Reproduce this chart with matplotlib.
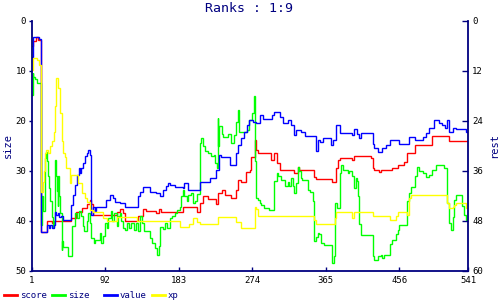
import matplotlib
matplotlib.use("Agg")
import matplotlib.pyplot as plt
from matplotlib.lines import Line2D

# ---------------- data (step change points: turn, value) ----------------
score_turns = [1, 3, 6, 9, 13, 20, 26, 28, 50, 56, 63, 69, 73, 75, 77, 106, 110, 114, 116, 133,
               139, 143, 155, 159, 161, 188, 205, 209, 213, 219, 229, 231, 236, 240, 248, 254,
               256, 260, 266, 271, 273, 277, 279, 281, 297, 301, 305, 308, 326, 330, 332, 351,
               353, 373, 378, 380, 382, 398, 400, 421, 423, 425, 431, 433, 447, 454, 462, 466,
               476, 497, 517]
score_vals = [5.0, 4.0, 3.3, 3.8, 42.2, 40.0, 40.4, 40.0, 39.5, 38.3, 37.4, 36.6, 35.9, 36.6,
              38.9, 38.3, 37.6, 38.5, 40.0, 39.1, 37.6, 38.1, 38.5, 37.6, 38.2, 37.3, 38.2, 36.4,
              35.1, 35.7, 36.6, 34.5, 33.9, 34.8, 35.5, 33.9, 31.9, 32.2, 30.2, 29.9, 27.2, 23.9,
              25.9, 26.5, 27.9, 26.5, 28.5, 29.9, 30.5, 29.2, 29.9, 31.2, 31.6, 32.2, 29.5, 27.9,
              27.4, 27.9, 27.1, 27.5, 29.5, 29.9, 30.2, 29.9, 29.5, 28.9, 28.2, 26.5, 24.9, 23.1,
              24.0]

size_turns = [1, 2, 3, 5, 8, 13, 14, 15, 17, 19, 20, 21, 22, 24, 26, 27, 28, 30, 31, 32, 33, 34,
              35, 36, 38, 39, 40, 46, 51, 54, 57, 60, 62, 64, 66, 69, 71, 73, 75, 78, 79, 85, 87,
              89, 92, 94, 96, 99, 101, 103, 106, 108, 110, 112, 114, 117, 119, 121, 124, 127, 130,
              132, 135, 138, 140, 147, 150, 153, 156, 158, 160, 163, 166, 168, 172, 175, 178, 181,
              184, 186, 188, 190, 193, 195, 198, 201, 203, 205, 209, 211, 213, 215, 219, 223, 227,
              228, 230, 231, 232, 233, 236, 238, 244, 248, 252, 254, 256, 257, 258, 262, 268, 270,
              274, 276, 277, 278, 279, 281, 283, 285, 289, 295, 301, 304, 306, 310, 314, 318, 320,
              322, 324, 326, 328, 330, 332, 334, 336, 343, 345, 349, 351, 353, 355, 357, 359, 363,
              373, 375, 377, 379, 382, 384, 386, 392, 394, 398, 400, 402, 404, 405, 406, 408, 423,
              425, 429, 433, 435, 437, 445, 447, 452, 454, 456, 466, 468, 470, 476, 478, 480, 485,
              489, 493, 497, 501, 511, 515, 517, 520, 522, 524, 526, 534, 536, 538]
size_vals = [14.9, 10.5, 11.3, 11.7, 12.5, 40.9, 35.0, 38.0, 27.5, 26.2, 28.0, 31.0, 33.5, 36.0,
             39.2, 41.2, 40.0, 27.9, 31.0, 34.0, 37.0, 31.0, 35.0, 38.5, 45.9, 44.0, 45.2, 47.1,
             41.0, 38.5, 39.5, 38.0, 39.0, 41.0, 42.0, 40.0, 38.5, 40.5, 43.5, 44.5, 43.9, 42.5,
             44.5, 43.0, 40.5, 41.5, 39.5, 38.0, 40.0, 38.5, 41.0, 39.0, 38.5, 40.0, 41.5, 41.9,
             40.5, 41.5, 40.5, 41.8, 40.5, 42.0, 39.0, 40.5, 42.0, 43.5, 44.5, 45.5, 46.9, 45.0,
             41.2, 41.6, 40.5, 41.5, 39.5, 39.0, 38.5, 37.8, 37.2, 35.0, 33.9, 35.0, 36.0, 34.8,
             34.5, 36.5, 36.0, 34.7, 24.5, 23.5, 25.0, 26.0, 26.5, 27.0, 26.9, 28.5, 29.5, 19.5,
             25.0, 21.0, 22.6, 23.2, 22.6, 24.5, 22.9, 20.2, 17.9, 20.9, 22.2, 22.2, 21.9, 19.9,
             18.5, 15.0, 28.0, 35.0, 35.5, 35.9, 36.5, 36.8, 37.5, 37.9, 32.0, 30.5, 31.0, 31.8,
             33.0, 32.2, 33.0, 31.5, 33.0, 34.5, 32.5, 29.2, 30.0, 31.5, 31.9, 33.9, 34.3, 36.0,
             44.0, 43.2, 42.5, 42.7, 44.5, 44.9, 48.5, 47.0, 36.5, 37.5, 30.5, 28.9, 29.9, 30.5,
             30.0, 31.0, 33.5, 31.5, 32.0, 35.0, 40.7, 42.9, 47.0, 47.9, 47.0, 46.9, 47.5, 46.9,
             44.7, 43.9, 42.7, 41.9, 40.9, 36.0, 34.5, 33.2, 31.0, 29.2, 30.0, 30.5, 31.2, 30.8,
             29.9, 28.9, 29.5, 36.5, 40.5, 41.9, 39.2, 35.9, 34.9, 37.0, 38.9, 39.9]

value_turns = [1, 2, 3, 10, 13, 20, 22, 24, 26, 28, 30, 31, 33, 35, 37, 40, 50, 52, 55, 57, 59,
               61, 62, 65, 67, 69, 71, 73, 74, 75, 77, 79, 81, 85, 93, 98, 102, 104, 110, 116,
               133, 135, 139, 147, 155, 160, 164, 167, 170, 172, 178, 188, 190, 195, 209, 222,
               229, 233, 235, 247, 254, 256, 260, 264, 268, 270, 275, 279, 283, 287, 299, 301,
               308, 312, 318, 322, 326, 328, 334, 339, 353, 355, 358, 361, 371, 374, 378, 382,
               398, 400, 404, 406, 408, 423, 425, 429, 435, 439, 445, 456, 468, 476, 485, 489,
               493, 499, 505, 509, 513, 515, 517, 522, 526, 538]
value_vals = [7.2, 5.0, 3.2, 3.7, 42.2, 40.9, 41.5, 40.9, 41.5, 40.9, 38.2, 38.9, 38.5, 39.3,
              39.0, 39.9, 36.9, 34.9, 32.9, 30.9, 29.5, 30.5, 29.5, 28.5, 27.0, 26.5, 25.9, 26.9,
              28.9, 38.9, 37.3, 38.0, 37.3, 37.2, 35.9, 34.9, 35.5, 36.3, 36.5, 37.3, 35.0, 34.2,
              33.2, 34.2, 34.5, 35.0, 33.9, 33.1, 32.4, 32.9, 33.2, 33.5, 32.4, 33.9, 32.2, 31.5,
              29.9, 26.9, 27.2, 28.9, 26.5, 24.9, 23.5, 22.2, 20.9, 19.9, 20.2, 20.5, 18.9, 19.7,
              18.9, 18.2, 19.2, 20.5, 19.9, 20.9, 22.9, 21.9, 22.2, 23.1, 26.0, 23.9, 24.3, 23.5,
              24.8, 23.9, 20.8, 22.4, 22.9, 21.7, 22.6, 23.5, 22.4, 24.6, 25.5, 26.2, 25.5, 24.9,
              23.9, 24.7, 23.2, 23.9, 23.2, 22.5, 21.5, 19.9, 20.5, 20.9, 21.5, 19.9, 22.2, 21.5,
              21.7, 22.2]

xp_turns = [1, 2, 3, 8, 10, 13, 15, 16, 17, 19, 21, 24, 26, 28, 30, 31, 34, 36, 38, 40, 42, 44,
            48, 50, 58, 63, 67, 69, 73, 77, 89, 94, 106, 131, 184, 196, 201, 206, 209, 232, 254,
            260, 277, 279, 281, 351, 353, 376, 378, 398, 400, 423, 445, 452, 454, 466, 468, 470,
            515, 517, 522, 524, 526, 538]
xp_vals = [9.9, 8.5, 7.5, 7.9, 8.9, 34.2, 32.2, 30.0, 26.5, 25.9, 26.5, 25.0, 24.1, 22.2, 17.0,
           11.5, 13.5, 18.5, 24.0, 26.5, 27.2, 29.5, 32.5, 30.9, 32.5, 34.5, 35.5, 36.2, 37.9,
           38.2, 39.4, 40.0, 39.2, 40.0, 41.3, 40.7, 39.5, 40.2, 40.7, 39.2, 40.2, 41.4, 37.2,
           37.6, 39.1, 39.9, 40.7, 39.5, 38.2, 39.5, 38.2, 39.1, 39.9, 39.0, 38.2, 38.8, 35.5,
           34.9, 36.5, 37.5, 37.2, 36.9, 36.5, 37.5]

last_turn = 541
x_ticks = [1, 92, 183, 274, 365, 456, 541]
left_ticks = [0, 10, 20, 30, 40, 50]
right_ticks = [0, 12, 24, 36, 48, 60]
series_names = ["score", "size", "value", "xp"]
series_colors = ["#ff0000", "#00ff00", "#0000ff", "#ffff00"]

NAVY = "#000080"
MONO = ["DejaVu Sans Mono"]

fig = plt.figure(figsize=(5, 3), dpi=100)
fig.patch.set_facecolor("white")
ax = fig.add_axes([0.0634, 0.0977, 0.8726, 0.8333])

all_series = [(score_turns, score_vals), (size_turns, size_vals),
              (value_turns, value_vals), (xp_turns, xp_vals)]
for (xs, ys), col in zip(all_series, series_colors):
    xx = list(xs) + [last_turn]
    yy = list(ys) + [ys[-1]]
    ax.step(xx, yy, where="post", color=col, lw=1.0, solid_joinstyle="miter")

ax.set_xlim(1, last_turn)
ax.set_ylim(50, 0)
ax.set_xticks(x_ticks)
ax.set_yticks(left_ticks)
for s in ["top", "right"]:
    ax.spines[s].set_visible(False)
for s in ["left", "bottom"]:
    ax.spines[s].set_color(NAVY)
    ax.spines[s].set_linewidth(1.3)
ax.tick_params(axis="y", direction="out", length=2.5, width=1.0, color=NAVY, pad=1.5,
               labelsize=6.5, labelcolor="black")
ax.tick_params(axis="x", direction="in", length=3, width=1.0, color=NAVY, pad=4,
               labelsize=6.5, labelcolor="black")
for lab in ax.get_xticklabels() + ax.get_yticklabels():
    lab.set_family(MONO)

ax2 = ax.twinx()
ax2.set_ylim(60, 0)
ax2.set_yticks(right_ticks)
for s in ["top", "left", "bottom"]:
    ax2.spines[s].set_visible(False)
ax2.spines["right"].set_color(NAVY)
ax2.spines["right"].set_linewidth(1.3)
ax2.tick_params(axis="y", direction="in", length=4, width=1.0, color=NAVY, pad=3,
                labelsize=6.5, labelcolor="black")
for lab in ax2.get_yticklabels():
    lab.set_family(MONO)

fig.text(0.498, 0.973, "Ranks : 1:9", ha="center", va="center", color=NAVY,
         family=MONO, fontsize=9.5)
fig.text(7.5 / 500, 1 - 145 / 300, "size", rotation=90, ha="center", va="center",
         color=NAVY, family=MONO, fontsize=7.5)
fig.text(494 / 500, 1 - 145 / 300, "rest", rotation=90, ha="center", va="center",
         color=NAVY, family=MONO, fontsize=7.5)

# legend along the bottom
leg_x = [4, 52, 104, 152]
for lx, name, col in zip(leg_x, series_names, series_colors):
    fig.add_artist(Line2D([lx / 500, (lx + 13) / 500], [1 - 295 / 300] * 2,
                          color=col, lw=2.0, transform=fig.transFigure))
    fig.text((lx + 16) / 500, 1 - 295 / 300, name, ha="left", va="center",
             color=NAVY, family=MONO, fontsize=6.5)

fig.savefig("out.png", dpi=100, facecolor="white")
